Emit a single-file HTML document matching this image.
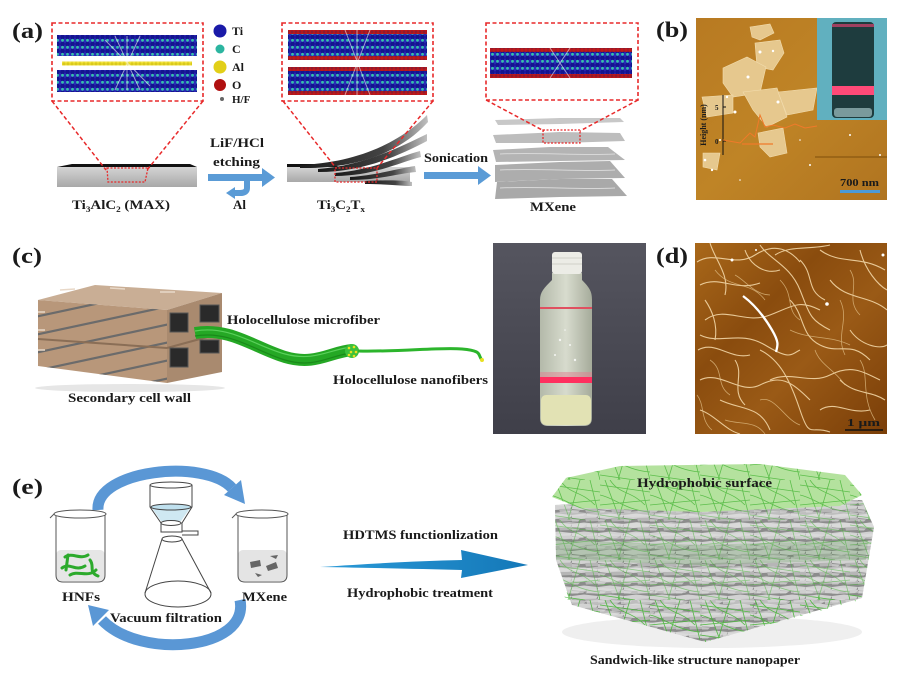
<!DOCTYPE html>
<html><head><meta charset="utf-8"><style>
html,body{margin:0;padding:0;background:#fff;}
svg{display:block;}
text{font-family:"Liberation Serif",serif;font-weight:bold;fill:#1a1a1a;}
</style></head><body>
<svg width="910" height="680" viewBox="0 0 910 680" xmlns="http://www.w3.org/2000/svg">
<defs>
<pattern id="ti" width="5" height="7" patternUnits="userSpaceOnUse"><rect width="5" height="7" fill="#2a2ab8"/><circle cx="2.5" cy="2" r="2.3" fill="#14148f"/><circle cx="2.5" cy="5.3" r="1.4" fill="#35c0aa"/></pattern>
<pattern id="ox" width="4" height="4" patternUnits="userSpaceOnUse"><rect width="4" height="4" fill="#8a1a30"/><circle cx="2" cy="2" r="1.7" fill="#c01818"/></pattern>
<pattern id="al" width="4" height="4" patternUnits="userSpaceOnUse"><rect width="4" height="4" fill="#d8c818"/><circle cx="2" cy="2" r="1.6" fill="#f2e23a"/></pattern>
<linearGradient id="slab" x1="0" y1="0" x2="0" y2="1"><stop offset="0" stop-color="#d4d4d4"/><stop offset="1" stop-color="#a8a8a8"/></linearGradient>
<linearGradient id="sheet" x1="0" y1="0" x2="1" y2="0"><stop offset="0" stop-color="#1a1a1a"/><stop offset="0.65" stop-color="#444"/><stop offset="1" stop-color="#c0c0c0"/></linearGradient>
<linearGradient id="bafm" x1="0" y1="0" x2="1" y2="1"><stop offset="0" stop-color="#b87a22"/><stop offset="0.5" stop-color="#bf8426"/><stop offset="1" stop-color="#b07420"/></linearGradient>
<linearGradient id="dafm" x1="0" y1="0" x2="1" y2="1"><stop offset="0" stop-color="#a9681a"/><stop offset="0.35" stop-color="#8a4c0e"/><stop offset="0.6" stop-color="#9a5a16"/><stop offset="1" stop-color="#7a3e08"/></linearGradient>
<linearGradient id="photo" x1="0" y1="0" x2="0" y2="1"><stop offset="0" stop-color="#55555f"/><stop offset="1" stop-color="#3f3f49"/></linearGradient>
<linearGradient id="btl" x1="0" y1="0" x2="1" y2="0"><stop offset="0" stop-color="#b9bfae"/><stop offset="0.5" stop-color="#dfe3d4"/><stop offset="1" stop-color="#aab09e"/></linearGradient>
<linearGradient id="bigarrow" x1="0" y1="0" x2="1" y2="0"><stop offset="0" stop-color="#2a9ad8"/><stop offset="1" stop-color="#1478b8"/></linearGradient>
<pattern id="flk" width="26" height="9" patternUnits="userSpaceOnUse"><rect width="26" height="9" fill="#8c8c8c"/><path d="M0,2 L12,0.5 L26,2 L24,5 L9,6 L0,5Z" fill="#d2d2d2"/><path d="M13,5 L26,4.5 L26,8 L14,8.5Z" fill="#b6b6b6"/><path d="M0,6 L8,6.5 L6,8.5 L0,8.5Z" fill="#c4c4c4"/></pattern>
<pattern id="flk2" width="34" height="11" patternUnits="userSpaceOnUse" x="9" y="4"><path d="M0,3 L16,1 L34,3 L30,6 L12,7 L0,6Z" fill="#e0e0e0" opacity="0.6"/></pattern>
<pattern id="mesh" width="50" height="40" patternUnits="userSpaceOnUse"><g stroke="#45b535" stroke-width="0.8" fill="none"><path d="M0,5 L50,12"/><path d="M5,0 L20,40"/><path d="M30,0 L18,40"/><path d="M0,25 L50,20"/><path d="M40,0 L50,40"/><path d="M0,35 L35,40"/><path d="M10,0 C20,15 30,10 45,25"/><path d="M0,15 C15,18 25,30 50,32"/></g></pattern>
<clipPath id="front"><polygon points="38,300 167,310 167,383 38,366"/></clipPath>
<clipPath id="dclip"><rect x="695" y="243" width="192" height="191"/></clipPath>
<clipPath id="bclip"><rect x="696" y="18" width="191" height="182"/></clipPath>
</defs>
<rect width="910" height="680" fill="#fff"/>

<!-- ===== Panel (a) ===== -->
<text x="12" y="38" font-size="22" textLength="31" lengthAdjust="spacingAndGlyphs">(a)</text>
<rect x="57" y="35" width="140" height="21" fill="url(#ti)"/>
<rect x="62" y="61.5" width="130" height="4" fill="url(#al)"/>
<rect x="57" y="70" width="140" height="22" fill="url(#ti)"/>
<g stroke="#fff" stroke-width="1" opacity="0.55"><path d="M115,36 L140,90"/><path d="M140,36 L115,90"/><path d="M127,36 L127,90"/><path d="M105,40 L150,86"/></g>
<rect x="52" y="23" width="151" height="78" fill="none" stroke="#e8292a" stroke-width="1.6" stroke-dasharray="4,2.5"/>
<circle cx="220" cy="31" r="6.5" fill="#1a1aa8"/>
<circle cx="220" cy="49" r="4.5" fill="#2cb5a0"/>
<circle cx="220" cy="67" r="6.5" fill="#e2cf18"/>
<circle cx="220" cy="85" r="6" fill="#b01010"/>
<circle cx="222" cy="99" r="2" fill="#666"/>
<text x="232" y="35" font-size="12">Ti</text>
<text x="232" y="53" font-size="12">C</text>
<text x="232" y="71" font-size="12">Al</text>
<text x="232" y="89" font-size="12">O</text>
<text x="232" y="103" font-size="11">H/F</text>
<polygon points="72,164 190,164 197,167 57,167" fill="#111"/>
<rect x="57" y="167" width="140" height="20" fill="url(#slab)"/>
<g fill="none" stroke="#e8292a" stroke-width="1.5" stroke-dasharray="4,2.5"><path d="M52,101 L106,170"/><path d="M203,101 L147,170"/></g>
<polygon points="107,168 148,168 145,182 108,182" fill="none" stroke="#e8292a" stroke-width="1.3" stroke-dasharray="2,1.5"/>
<text x="72" y="209" font-size="13" textLength="98" lengthAdjust="spacingAndGlyphs">Ti<tspan font-size="8" dy="3">3</tspan><tspan dy="-3">AlC</tspan><tspan font-size="8" dy="3">2</tspan><tspan dy="-3"> (MAX)</tspan></text>
<text x="210" y="147" font-size="13" textLength="54" lengthAdjust="spacingAndGlyphs">LiF/HCl</text>
<text x="213" y="166" font-size="13" textLength="47" lengthAdjust="spacingAndGlyphs">etching</text>
<rect x="208" y="174" width="55" height="7" fill="#5a9bd6"/>
<polygon points="262,168 275,177.5 262,187" fill="#5a9bd6"/>
<path d="M247,181 L247,188 Q247,193 240,193 L234,193" fill="none" stroke="#5a9bd6" stroke-width="6"/>
<polygon points="235,187 226,193 235,199" fill="#5a9bd6"/>
<text x="233" y="209" font-size="13" textLength="13" lengthAdjust="spacingAndGlyphs">Al</text>
<!-- box 2 -->
<rect x="288" y="30" width="139" height="4" fill="url(#ox)"/>
<rect x="288" y="34" width="139" height="22" fill="url(#ti)"/>
<rect x="288" y="56" width="139" height="4" fill="url(#ox)"/>
<rect x="288" y="67" width="139" height="4" fill="url(#ox)"/>
<rect x="288" y="71" width="139" height="20" fill="url(#ti)"/>
<rect x="288" y="91" width="139" height="4" fill="url(#ox)"/>
<g stroke="#fff" stroke-width="1" opacity="0.55"><path d="M345,30 L370,95"/><path d="M370,30 L345,95"/><path d="M357,30 L357,95"/></g>
<rect x="282" y="23" width="151" height="78" fill="none" stroke="#e8292a" stroke-width="1.6" stroke-dasharray="4,2.5"/>
<!-- Ti3C2Tx -->
<rect x="287" y="167" width="123" height="15" fill="url(#slab)"/>
<polygon points="287,164 330,164 340,167 287,167" fill="#111"/>
<g fill="url(#sheet)">
<path d="M300,165 C350,163 395,147 427,115 L428,122 C398,155 352,169 300,168Z"/>
<path d="M318,169 C362,166 398,148 427,134 L427,141 C400,155 364,172 318,172Z"/>
<path d="M335,173 C372,170 398,157 420,151 L421,157 C400,162 374,176 335,176Z"/>
<path d="M350,177 C378,175 400,168 415,166 L416,172 C400,173 380,180 350,180Z"/>
<path d="M365,181 C388,180 402,180 412,182 L412,186 C400,186 388,184 365,184Z"/>
</g>
<g fill="none" stroke="#e8292a" stroke-width="1.5" stroke-dasharray="4,2.5"><path d="M283,101 L336,168"/><path d="M433,101 L377,168"/></g>
<rect x="335" y="168" width="42" height="14" fill="none" stroke="#e8292a" stroke-width="1.3" stroke-dasharray="2,1.5"/>
<text x="317" y="209" font-size="13" textLength="48" lengthAdjust="spacingAndGlyphs">Ti<tspan font-size="8" dy="3">3</tspan><tspan dy="-3">C</tspan><tspan font-size="8" dy="3">2</tspan><tspan dy="-3">T</tspan><tspan font-size="8" dy="3">x</tspan></text>
<text x="424" y="162" font-size="13" textLength="64" lengthAdjust="spacingAndGlyphs">Sonication</text>
<rect x="424" y="172" width="55" height="7" fill="#5a9bd6"/>
<polygon points="478,166 491,175.5 478,185" fill="#5a9bd6"/>
<!-- box 3 -->
<rect x="490" y="48" width="142" height="4" fill="url(#ox)"/>
<rect x="490" y="52" width="142" height="22" fill="url(#ti)"/>
<rect x="490" y="74" width="142" height="4" fill="url(#ox)"/>
<g stroke="#fff" stroke-width="1" opacity="0.55"><path d="M550,48 L570,78"/><path d="M570,48 L550,78"/></g>
<rect x="486" y="23" width="152" height="77" fill="none" stroke="#e8292a" stroke-width="1.6" stroke-dasharray="4,2.5"/>
<polygon points="495,120 560,118 620,118 624,122 560,124 498,125" fill="#c8c8c8"/>
<polygon points="493,135 560,132 620,133 625,141 560,143 496,143" fill="#bdbdbd"/>
<polygon points="493,150 550,147 608,147 625,160 560,161 496,162" fill="#b4b4b4"/>
<polygon points="495,165 560,162 610,161 625,178 560,179 495,182" fill="#adadad"/>
<polygon points="497,182 560,179 612,179 627,196 560,197 495,199" fill="#a9a9a9"/>
<g stroke="#d8d8d8" stroke-width="1" fill="none"><path d="M500,154 C540,152 580,156 615,154"/><path d="M500,170 C540,168 580,172 615,170"/><path d="M500,188 C540,186 580,190 615,188"/></g>
<g fill="none" stroke="#e8292a" stroke-width="1.5" stroke-dasharray="4,2.5"><path d="M486,100 L544,131"/><path d="M638,100 L580,131"/></g>
<rect x="543" y="130" width="37" height="13" fill="none" stroke="#e8292a" stroke-width="1.3" stroke-dasharray="2,1.5"/>
<text x="530" y="211" font-size="13" textLength="46" lengthAdjust="spacingAndGlyphs">MXene</text>

<!-- ===== Panel (b) ===== -->
<text x="656" y="37" font-size="22" textLength="32" lengthAdjust="spacingAndGlyphs">(b)</text>
<g clip-path="url(#bclip)">
<rect x="696" y="18" width="191" height="182" fill="url(#bafm)"/>
<g fill="#e6c88e" stroke="#f2dcae" stroke-width="0.6">
<polygon points="750,27 770,24 774,33 760,40 752,37"/>
<polygon points="755,43 780,40 784,53 773,70 757,67"/>
<polygon points="723,68 747,57 766,67 760,93 733,97 723,83"/>
<polygon points="743,92 777,88 787,117 767,127 753,110"/>
<polygon points="778,92 817,88 813,110 787,115"/>
<polygon points="758,133 783,128 787,153 770,157 760,147"/>
<polygon points="702,97 733,95 733,113 707,117"/>
<polygon points="703,153 720,153 717,170 703,167"/>
</g>
<path d="M815,157 L887,157" stroke="#8a5810" stroke-width="1.2"/>
<g fill="#fff"><circle cx="760" cy="52" r="1.5"/><circle cx="773" cy="51" r="1.2"/><circle cx="748" cy="77" r="1.5"/><circle cx="735" cy="112" r="1.5"/><circle cx="727" cy="97" r="1.2"/><circle cx="778" cy="102" r="1.5"/><circle cx="810" cy="165" r="1"/><circle cx="720" cy="140" r="1"/><circle cx="850" cy="135" r="1"/><circle cx="705" cy="160" r="1.3"/><circle cx="712" cy="170" r="1.2"/><circle cx="740" cy="180" r="0.8"/><circle cx="800" cy="140" r="0.8"/><circle cx="880" cy="155" r="1"/></g>
<rect x="817" y="18" width="70" height="102" fill="#61b0bf"/>
<rect x="832" y="22" width="42" height="96" rx="4" fill="#1e3c3e"/>
<rect x="832" y="24" width="42" height="3" fill="#a04060"/>
<rect x="832" y="86" width="42" height="9" fill="#ff4a78"/>
<rect x="834" y="108" width="38" height="9" rx="3" fill="#7a9a9c"/>
</g>
<path d="M723,95 L723,155" stroke="#111" stroke-width="1"/>
<path d="M723,107 L726,107 M723,141 L726,141" stroke="#111" stroke-width="1"/>
<text x="715" y="110" font-size="7">5</text>
<text x="715" y="144" font-size="7">0</text>
<text transform="translate(706,125) rotate(-90)" font-size="8" text-anchor="middle">Height (nm)</text>
<path d="M723,140 L740,143 L750,133 L755,137 L760,115 L765,127 L773,125 L785,128 L795,124 L805,128 L817,126" fill="none" stroke="#f07a2a" stroke-width="1"/>
<path d="M742,144 L773,144" stroke="#f07a2a" stroke-width="1.3"/>
<text x="840" y="186" font-size="11" textLength="39" lengthAdjust="spacingAndGlyphs">700 nm</text>
<rect x="840" y="190" width="40" height="3" fill="#4a9ad8"/>

<!-- ===== Panel (c) ===== -->
<text x="12" y="263" font-size="22" textLength="30" lengthAdjust="spacingAndGlyphs">(c)</text>
<polygon points="38,300 167,310 222,293 95,285" fill="#c9ae95"/>
<polygon points="38,300 167,310 167,383 38,366" fill="#b8977a"/>
<polygon points="167,310 222,293 222,372 167,383" fill="#a98a6f"/>
<g clip-path="url(#front)" stroke="#6b6b6b" stroke-width="2.2">
<path d="M30,318 L170,288"/><path d="M30,336 L170,306"/><path d="M30,354 L170,324"/><path d="M30,372 L170,342"/><path d="M30,390 L170,360"/><path d="M30,408 L170,378"/>
</g>
<path d="M38,339 L167,348" stroke="#8a6e56" stroke-width="2"/>
<path d="M167,348 L222,333" stroke="#8a6e56" stroke-width="2"/>
<g stroke="#e8d8c8" stroke-width="1.5"><path d="M38,312 L45,312"/><path d="M38,330 L45,330"/><path d="M38,350 L45,350"/><path d="M60,290 L75,289"/><path d="M110,288 L125,289"/><path d="M160,292 L175,292"/></g>
<rect x="170" y="313" width="18" height="19" fill="#2a2a2a" stroke="#555" stroke-width="1"/>
<rect x="200" y="305" width="19" height="17" fill="#2a2a2a" stroke="#555" stroke-width="1"/>
<rect x="170" y="348" width="18" height="19" fill="#2a2a2a" stroke="#555" stroke-width="1"/>
<rect x="200" y="340" width="19" height="13" fill="#2a2a2a" stroke="#555" stroke-width="1"/>
<ellipse cx="130" cy="388" rx="95" ry="4" fill="#e6e6e6"/>
<path d="M195,333 C230,327 255,348 285,357 S330,352 352,350" fill="none" stroke="#25a825" stroke-width="12"/>
<path d="M195,331 C230,325 255,346 285,354 S330,349 352,347" fill="none" stroke="#5ad05a" stroke-width="1.2"/>
<path d="M195,336 C230,330 255,351 285,360 S330,355 352,353" fill="none" stroke="#1a8a1a" stroke-width="1.2"/>
<circle cx="352" cy="351" r="7" fill="#3cc03c"/>
<g fill="#e8e020"><circle cx="349" cy="348" r="1.3"/><circle cx="354" cy="347" r="1.3"/><circle cx="351" cy="352" r="1.3"/><circle cx="356" cy="352" r="1.3"/><circle cx="349" cy="355" r="1.3"/><circle cx="354" cy="356" r="1.3"/></g>
<path d="M358,351 C400,352 440,347 462,349 S477,355 482,360" fill="none" stroke="#2cb52c" stroke-width="3"/>
<circle cx="482" cy="360" r="2" fill="#e8e020"/>
<text x="227" y="324" font-size="12.5" textLength="153" lengthAdjust="spacingAndGlyphs">Holocellulose microfiber</text>
<text x="333" y="384" font-size="12.5" textLength="155" lengthAdjust="spacingAndGlyphs">Holocellulose nanofibers</text>
<text x="68" y="402" font-size="12.5" textLength="123" lengthAdjust="spacingAndGlyphs">Secondary cell wall</text>
<rect x="493" y="243" width="153" height="191" fill="url(#photo)"/>
<path d="M552,273 L582,273 L582,280 C590,288 592,292 592,300 L592,418 Q592,426 584,426 L548,426 Q540,426 540,418 L540,300 C540,292 544,288 552,280Z" fill="url(#btl)" opacity="0.95"/>
<rect x="541" y="395" width="50" height="30" rx="5" fill="#e2e2b4"/>
<rect x="552" y="252" width="30" height="22" rx="3" fill="#ecece6"/>
<path d="M552,258 L582,258 M552,264 L582,264" stroke="#d0d0c8" stroke-width="1"/>
<rect x="540" y="307" width="52" height="2" fill="#e05060"/>
<rect x="540" y="377" width="52" height="6" fill="#ff2f5f"/>
<rect x="540" y="372" width="52" height="5" fill="#e08090" opacity="0.5"/>
<g fill="#fff" opacity="0.8"><circle cx="560" cy="340" r="1.2"/><circle cx="570" cy="345" r="1"/><circle cx="555" cy="355" r="1"/><circle cx="575" cy="360" r="1.2"/><circle cx="565" cy="330" r="0.8"/></g>

<!-- ===== Panel (d) ===== -->
<text x="656" y="263" font-size="22" textLength="32" lengthAdjust="spacingAndGlyphs">(d)</text>
<g clip-path="url(#dclip)">
<rect x="695" y="243" width="192" height="191" fill="url(#dafm)"/>
<g fill="none" stroke="#f2d6a6" stroke-width="1.1" opacity="0.9">
<path d="M697,262 C715,250 735,268 755,255 S790,250 800,262"/>
<path d="M700,285 C720,275 735,292 760,283"/>
<path d="M705,320 C725,305 745,325 770,315 S800,300 820,310"/>
<path d="M698,350 C715,340 730,360 750,355"/>
<path d="M700,380 C720,370 740,395 760,385 S790,380 810,400"/>
<path d="M710,243 C715,260 730,275 725,295"/>
<path d="M760,245 C770,260 790,265 800,290 S810,320 830,330"/>
<path d="M820,250 C840,265 860,255 885,270"/>
<path d="M830,280 C845,300 870,295 887,310"/>
<path d="M790,300 C805,315 800,335 820,345 S850,340 870,360"/>
<path d="M760,350 C780,360 790,380 800,410 S810,425 830,432"/>
<path d="M720,400 C740,410 760,405 770,430"/>
<path d="M840,380 C855,395 870,390 885,400"/>
<path d="M850,330 C860,345 880,350 887,345"/>
<path d="M735,360 C745,375 730,390 745,405"/>
<path d="M700,410 C715,415 725,430 740,434"/>
<path d="M800,260 C815,275 805,290 825,300"/>
<path d="M745,250 C750,265 765,275 780,270"/>
<path d="M770,380 C790,370 810,385 830,375 S860,370 880,380"/>
<path d="M705,300 C712,310 718,325 715,340"/>
<path d="M860,250 C865,270 878,285 887,290"/>
<path d="M820,410 C835,400 850,415 870,410"/>
<path d="M700,335 C720,345 740,330 765,345 S790,355 800,350"/>
<path d="M775,255 C790,245 810,250 830,245"/>
</g>
<g fill="none" stroke="#e8c890" stroke-width="0.8" opacity="0.7">
<path d="M715,270 C730,290 750,280 765,300"/>
<path d="M780,280 C795,295 785,310 800,320"/>
<path d="M840,300 C850,320 835,335 845,355"/>
<path d="M860,360 C870,375 860,395 875,420"/>
<path d="M710,360 C725,370 715,385 730,395"/>
<path d="M790,330 C810,340 830,335 850,345"/>
<path d="M760,400 C775,395 785,420 800,425"/>
<path d="M725,420 C740,425 755,420 765,434"/>
<path d="M850,270 C860,285 845,300 860,315"/>
<path d="M697,395 C705,405 700,420 712,430"/>
<path d="M815,350 C820,365 835,370 845,385"/>
<path d="M735,275 C745,280 755,295 770,295"/>
</g>
<path d="M743,296 C755,305 765,318 772,330 S778,345 776,352" fill="none" stroke="#fff" stroke-width="2.3"/>
<g fill="#fff"><circle cx="732" cy="260" r="1.5"/><circle cx="827" cy="304" r="1.8"/><circle cx="883" cy="255" r="1.5"/><circle cx="756" cy="250" r="1"/></g>
</g>
<text x="847" y="426" font-size="11" textLength="33" lengthAdjust="spacingAndGlyphs">1 μm</text>
<path d="M845,430 L883,430" stroke="#111" stroke-width="1.5"/>

<!-- ===== Panel (e) ===== -->
<text x="12" y="494" font-size="22" textLength="31" lengthAdjust="spacingAndGlyphs">(e)</text>
<path d="M98,510 C95,470 205,458 232,488" fill="none" stroke="#5a97d5" stroke-width="11"/>
<polygon points="224,495 241,480 245,504" fill="#5a97d5"/>
<path d="M240,600 C250,650 140,660 102,620" fill="none" stroke="#5a97d5" stroke-width="11"/>
<polygon points="109,610 93,626 88,605" fill="#5a97d5"/>
<g fill="none" stroke="#555" stroke-width="1">
<rect x="56" y="550" width="49" height="31" rx="5" fill="#e6e6e6" stroke="none"/>
<path d="M56,515 L56,575 Q56,582 63,582 L98,582 Q105,582 105,575 L105,515"/>
<ellipse cx="80" cy="514" rx="26" ry="4" fill="#fff"/>
<path d="M54,514 L50,518"/>
</g>
<g fill="none" stroke="#2caa2c" stroke-width="3" stroke-linecap="round">
<path d="M65,557 C72,552 80,560 88,555"/><path d="M62,568 C70,562 75,572 85,566"/><path d="M70,575 C78,570 88,578 96,570"/><path d="M90,560 C95,566 88,572 98,576"/><path d="M68,555 L66,570"/></g>
<g fill="none" stroke="#555" stroke-width="1">
<rect x="238" y="550" width="49" height="31" rx="5" fill="#e4e4e4" stroke="none"/>
<path d="M238,515 L238,575 Q238,582 245,582 L280,582 Q287,582 287,575 L287,515"/>
<ellipse cx="262" cy="514" rx="26" ry="4" fill="#fff"/>
<path d="M236,514 L232,518"/>
</g>
<g fill="#666"><polygon points="250,562 260,560 261,566 251,568"/><polygon points="266,566 276,562 278,568 268,571"/><polygon points="255,573 262,575 258,577"/><polygon points="270,556 278,555 276,559"/></g>
<g fill="none" stroke="#444" stroke-width="1">
<path d="M150,485 L150,507 L161,523 L161,532 L182,532 L182,523 L192,507 L192,485" fill="#fff"/>
<path d="M151,507 L191,507 L181,521 L161,521Z" fill="#cfe8f2" stroke="none"/>
<ellipse cx="171" cy="485" rx="21" ry="3" fill="#fff"/>
<ellipse cx="171" cy="507" rx="20" ry="3" fill="#bfe0ee"/>
<ellipse cx="171" cy="523" rx="10" ry="2.5"/>
<path d="M182,531 L198,531 L198,535 L182,535"/>
<ellipse cx="172" cy="539" rx="10" ry="3"/>
<path d="M162,539 L145,593 M182,539 L211,593"/>
<ellipse cx="178" cy="594" rx="33" ry="13"/>
</g>
<text x="62" y="601" font-size="12.5" textLength="38" lengthAdjust="spacingAndGlyphs">HNFs</text>
<text x="242" y="601" font-size="12.5" textLength="45" lengthAdjust="spacingAndGlyphs">MXene</text>
<text x="110" y="622" font-size="12.5" textLength="112" lengthAdjust="spacingAndGlyphs">Vacuum filtration</text>
<path d="M320,567 C380,563 420,561 462,560 L461,550 L528,565 L461,578 L462,570 C420,569 380,568 320,567Z" fill="url(#bigarrow)"/>
<text x="343" y="539" font-size="12.5" textLength="155" lengthAdjust="spacingAndGlyphs">HDTMS functionlization</text>
<text x="347" y="597" font-size="12.5" textLength="146" lengthAdjust="spacingAndGlyphs">Hydrophobic treatment</text>
<!-- nanopaper -->
<ellipse cx="712" cy="632" rx="150" ry="16" fill="#efefef"/>
<polygon points="555,505 700,498 862,500 874,527 862,598 705,642 572,605 556,560" fill="url(#flk)"/>
<polygon points="555,505 700,498 862,500 874,527 862,598 705,642 572,605 556,560" fill="url(#flk2)"/>
<polygon points="555,505 700,498 862,500 874,527 862,598 705,642 572,605 556,560" fill="url(#mesh)" opacity="0.55"/>
<polygon points="556,540 700,545 868,540 866,560 700,565 556,560" fill="#3c8a30" opacity="0.2"/>
<polygon points="560,592 705,602 862,594 860,600 705,642 572,605" fill="url(#mesh)" opacity="0.7"/>
<polygon points="552,497 566,478 620,466 760,464 845,475 862,495 840,506 700,512 580,508" fill="#b4e29e"/>
<polygon points="552,497 566,478 620,466 760,464 845,475 862,495 840,506 700,512 580,508" fill="url(#mesh)" opacity="0.8"/>
<text x="637" y="487" font-size="12.5" textLength="135" lengthAdjust="spacingAndGlyphs">Hydrophobic surface</text>
<text x="590" y="664" font-size="12.5" textLength="210" lengthAdjust="spacingAndGlyphs">Sandwich-like structure nanopaper</text>
</svg>
</body></html>
